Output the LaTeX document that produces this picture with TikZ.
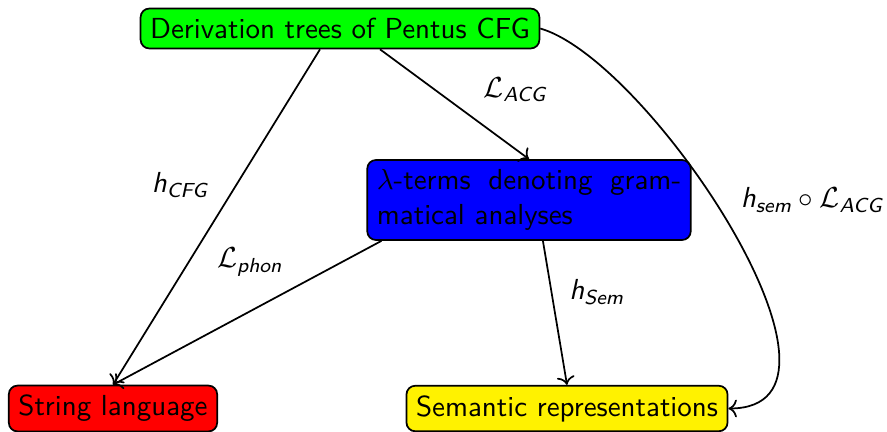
\documentclass[tikz,border=0pt]{standalone}
\usepackage{amsmath}
\newcommand{\msf}[1]{\text{\sffamily\slshape #1}}
\usetikzlibrary{arrows.meta}
\begin{document}
\begin{tikzpicture}[x=0.345pt,y=-0.345pt,
  font=\sffamily,
  box/.style={draw=black,line width=0.6pt,rounded corners=3pt,inner sep=3.3pt},
  edge/.style={->,line width=0.6pt},
  lab/.style={inner sep=0pt}]
\useasboundingbox (0,0) rectangle (887,431);
\node[box,fill=green] (g) at (340,28.5) {Derivation trees of Pentus CFG};
\node[box,fill=blue,text width=105pt,align=justify] (b) at (529,200)
  {$\lambda$-terms denoting gram-\linebreak matical analyses};
\node[box,fill=red] (r) at (113,408.5) {String language};
\node[box,fill=yellow] (y) at (567,408.5) {Semantic representations};

\draw[edge] ([xshift=-6.9pt]g.south) -- (r.north);
\draw[edge] ([xshift=13.8pt]g.south) -- (b.north);
\draw[edge] ([xshift=5.2pt]b.south west) -- (r.north);
\draw[edge] ([xshift=4.8pt]b.south) -- (y.north);
\draw[edge] (g.east) .. controls (650,60) and (880,408) .. (y.east);

\node[lab] (l1) at (180,185) {$\msf{h}_{\msf{CFG}}$};
\node[lab] (l2) at (515,90) {$\mathcal{L}_{\msf{ACG}}$};
\node[lab] (l3) at (250,262) {$\mathcal{L}_{\msf{phon}}$};
\node[lab] (l4) at (597,292) {$\msf{h}_{\msf{Sem}}$};
\node[lab] (l5) at (812,200) {$\msf{h}_{\msf{sem}}\circ\mathcal{L}_{\msf{ACG}}$};
\end{tikzpicture}
\end{document}
